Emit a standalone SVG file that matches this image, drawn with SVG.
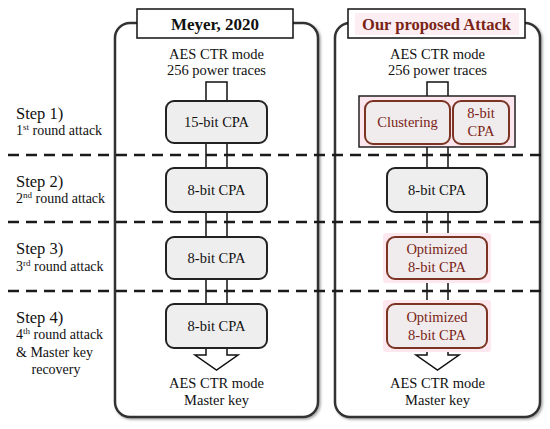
<svg xmlns="http://www.w3.org/2000/svg" width="550" height="429" viewBox="0 0 550 429">
<defs>
<filter id="sh" x="-5%" y="-5%" width="110%" height="110%">
<feDropShadow dx="1.5" dy="1.5" stdDeviation="1.2" flood-color="#000" flood-opacity="0.35"/>
</filter>
<style>
.t{font-family:"Liberation Serif","Times New Roman",serif;fill:#111;}
.c{text-anchor:middle;}
.red{fill:#7a2416;}
.panel{fill:#fff;stroke:#333;stroke-width:2.5;}
.title{fill:#fff;stroke:#111;stroke-width:1.5;}
.box{fill:#eeeeee;stroke:#222;stroke-width:2;}
.rbox{fill:#f0ebed;stroke:#7b3322;stroke-width:2;}
.halo{fill:#fde8ef;}
.arrow{fill:#fff;stroke:#111;stroke-width:1.5;}
.dash{stroke:#1a1a1a;stroke-width:2.5;stroke-dasharray:11 7;fill:none;}
</style>
</defs>
<rect width="550" height="429" fill="#fff"/>
<g id="panels">
<rect id="panel-left" class="panel" x="115" y="23" width="203" height="394" rx="15" filter="url(#sh)"/>
<rect id="panel-right" class="panel" x="335" y="23" width="205" height="394" rx="15" filter="url(#sh)"/>
</g>
<g id="title-left">
<rect class="title" x="137" y="9" width="156" height="29"/>
<text class="t c" x="215" y="30" font-size="17" font-weight="bold">Meyer, 2020</text>
</g>
<g id="title-right">
<rect class="title" x="348" y="9" width="177" height="29"/>
<rect x="355" y="13" width="164" height="22" fill="#fdeef3"/>
<text class="t c red" x="436.5" y="30" font-size="16.5" font-weight="bold">Our proposed Attack</text>
</g>
<g id="connectors">
<polygon class="arrow" points="206,82 227,82 227,355 238,355 216.5,370 195,355 206,355"/>
<polygon class="arrow" points="427,82 448,82 448,355 459,355 437.5,370 416,355 427,355"/>
</g>
<g id="dividers">
<line class="dash" x1="8" y1="155" x2="548" y2="155"/>
<line class="dash" x1="8" y1="222" x2="548" y2="222"/>
<line class="dash" x1="8" y1="291" x2="548" y2="291"/>
</g>
<g id="steps" class="t">
<text x="16" y="119" font-size="16.5">Step 1)</text>
<text x="16" y="135" font-size="14">1<tspan font-size="9" dy="-5">st</tspan><tspan dy="5"> round attack</tspan></text>
<text x="16" y="187" font-size="16.5">Step 2)</text>
<text x="16" y="203" font-size="14">2<tspan font-size="9" dy="-5">nd</tspan><tspan dy="5"> round attack</tspan></text>
<text x="16" y="254" font-size="16.5">Step 3)</text>
<text x="16" y="271" font-size="14">3<tspan font-size="9" dy="-5">rd</tspan><tspan dy="5"> round attack</tspan></text>
<text x="16" y="323" font-size="16.5">Step 4)</text>
<text x="16" y="339" font-size="14">4<tspan font-size="9" dy="-5">th</tspan><tspan dy="5"> round attack</tspan></text>
<text x="16" y="357" font-size="14">&amp; Master key</text>
<text x="56" y="374" font-size="14" text-anchor="middle">recovery</text>
</g>
<g id="io-left" class="t c" font-size="14.5">
<text x="216.5" y="59">AES CTR mode</text>
<text x="216.5" y="75">256 power traces</text>
<text x="216.5" y="388">AES CTR mode</text>
<text x="216.5" y="405">Master key</text>
</g>
<g id="io-right" class="t c" font-size="14.5">
<text x="437.5" y="59">AES CTR mode</text>
<text x="437.5" y="75">256 power traces</text>
<text x="437.5" y="388">AES CTR mode</text>
<text x="437.5" y="405">Master key</text>
</g>
<g id="left-step1">
<rect class="box" x="166" y="101" width="101" height="42" rx="8"/>
<text class="t c" x="216.5" y="127" font-size="14.5">15-bit CPA</text>
</g>
<g id="left-step2">
<rect class="box" x="166" y="168" width="101" height="44" rx="8"/>
<text class="t c" x="216.5" y="195" font-size="14.5">8-bit CPA</text>
</g>
<g id="left-step3">
<rect class="box" x="166" y="237" width="101" height="42" rx="8"/>
<text class="t c" x="216.5" y="263" font-size="14.5">8-bit CPA</text>
</g>
<g id="left-step4">
<rect class="box" x="166" y="304" width="101" height="44" rx="8"/>
<text class="t c" x="216.5" y="331" font-size="14.5">8-bit CPA</text>
</g>
<g id="right-step1">
<rect x="359" y="96" width="156" height="51" fill="#fde6ee" stroke="#222" stroke-width="1.5"/>
<rect class="rbox" x="365" y="101" width="85" height="43" rx="8"/>
<text class="t c red" x="407.5" y="127" font-size="14.5">Clustering</text>
<rect class="rbox" x="453" y="101" width="56" height="43" rx="8"/>
<text class="t c red" x="481" y="118" font-size="14.5">8-bit</text>
<text class="t c red" x="481" y="136" font-size="14.5">CPA</text>
</g>
<g id="right-step2">
<rect class="box" x="387" y="168" width="100" height="44" rx="8"/>
<text class="t c" x="437" y="195" font-size="14.5">8-bit CPA</text>
</g>
<g id="right-step3">
<rect class="halo" x="383" y="233" width="108" height="50" rx="3"/>
<rect class="rbox" x="387" y="237" width="100" height="42" rx="8"/>
<text class="t c red" x="437" y="254" font-size="14.5">Optimized</text>
<text class="t c red" x="437" y="272" font-size="14.5">8-bit CPA</text>
</g>
<g id="right-step4">
<rect class="halo" x="383" y="300" width="108" height="52" rx="3"/>
<rect class="rbox" x="387" y="304" width="100" height="44" rx="8"/>
<text class="t c red" x="437" y="322" font-size="14.5">Optimized</text>
<text class="t c red" x="437" y="340" font-size="14.5">8-bit CPA</text>
</g>
</svg>
